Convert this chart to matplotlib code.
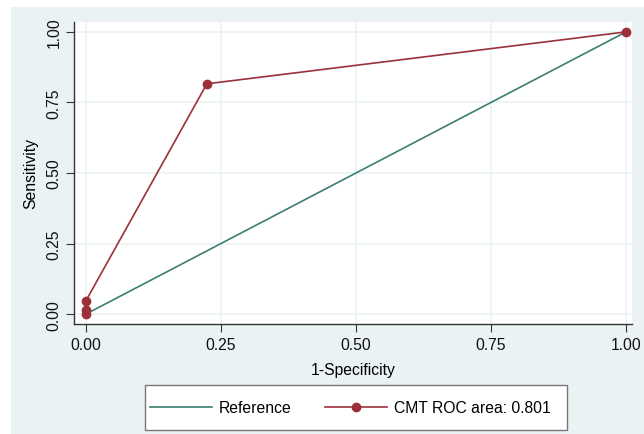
import matplotlib
matplotlib.use("Agg")
import matplotlib.pyplot as plt
from matplotlib.patches import Rectangle

plt.rcParams['font.family'] = ['Liberation Sans', 'DejaVu Sans']

ref_x = [0.0, 1.0]
ref_y = [0.0, 1.0]
roc_x = [0.0, 0.0, 0.0, 0.224, 1.0]
roc_y = [0.0, 0.015, 0.047, 0.816, 1.0]
ticks = [0.0, 0.25, 0.5, 0.75, 1.0]
tick_labels = ["0.00", "0.25", "0.50", "0.75", "1.00"]

ref_color = "#3A7F72"
roc_color = "#9B3039"
bg = "#EAF2F3"
fs = 11.3

fig = plt.figure(figsize=(6.44, 4.35), dpi=100)
fig.patches.append(Rectangle((11/644, 0), 1 - 11/644, 1 - 8/435, transform=fig.transFigure,
                             facecolor=bg, edgecolor='none', zorder=-10))
fig.patches.append(Rectangle((145/644, 1 - 431/435), 422/644, 45/435, transform=fig.transFigure,
                             facecolor='white', edgecolor='#777777', lw=1.0, zorder=-5))

ax = fig.add_axes([74/644, 1 - 325/435, (632-74)/644, (325-23)/435])
ax.set_facecolor("white")
ax.plot(ref_x, ref_y, color=ref_color, lw=1.2, label="Reference", zorder=3)
ax.plot(roc_x, roc_y, color=roc_color, lw=1.2, marker='o', ms=6, label="CMT ROC area: 0.801", zorder=4)

ax.set_xlim(-0.022, 1.011)
ax.set_ylim(-0.035, 1.035)
ax.set_xticks(ticks)
ax.set_xticklabels(tick_labels)
ax.set_yticks(ticks)
ax.set_yticklabels(tick_labels, rotation=90, va='center')
ax.grid(True, color=bg, lw=1.2, zorder=0)
ax.set_axisbelow(True)
for s in ['top', 'right']:
    ax.spines[s].set_visible(False)
for s in ['left', 'bottom']:
    ax.spines[s].set_color("#333333")
    ax.spines[s].set_linewidth(1.0)
ax.tick_params(axis='both', direction='out', length=6, width=0.8, color="#333333",
               labelsize=fs, labelcolor="#111111")
ax.tick_params(axis='y', pad=3)
ax.set_xlabel("1-Specificity", fontsize=fs, labelpad=7)
ax.set_ylabel("Sensitivity", fontsize=fs, labelpad=6)

h, l = ax.get_legend_handles_labels()
leg = fig.legend(h, l, ncol=2, loc='center left',
                 bbox_to_anchor=(150/644, 1 - 408.5/435),
                 fontsize=fs, frameon=False, handlelength=3.95,
                 handletextpad=0.45, borderpad=0,
                 borderaxespad=0, columnspacing=2.1)

fig.savefig("out.png", dpi=100)
